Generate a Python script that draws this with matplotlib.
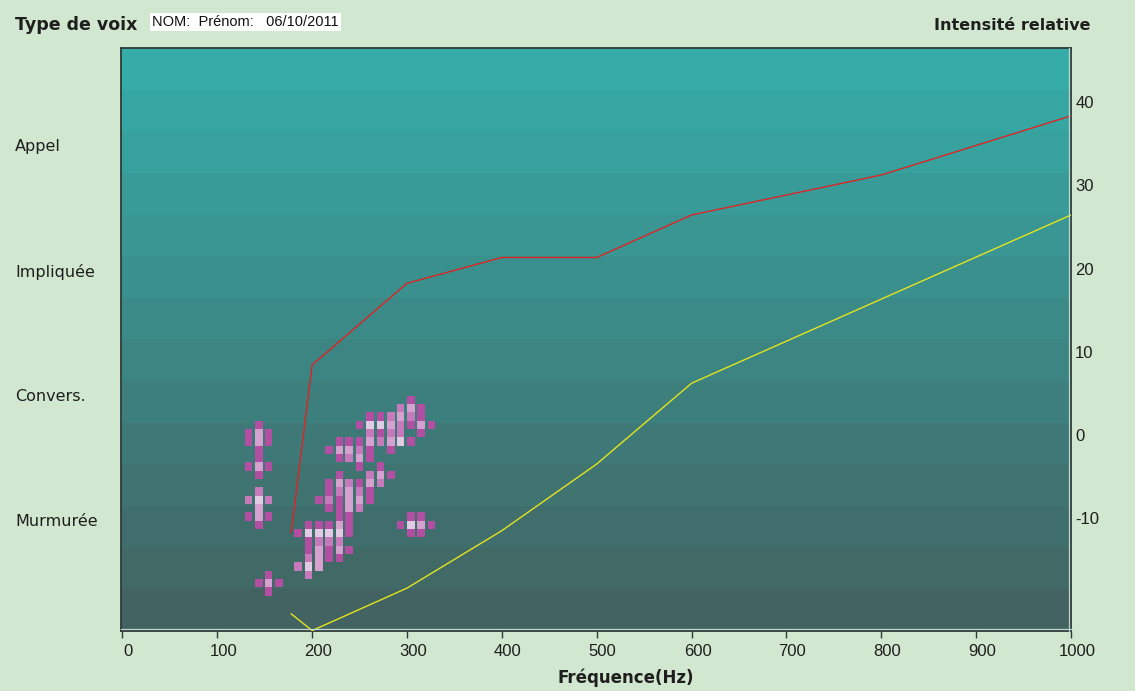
import matplotlib
matplotlib.use("Agg")
import matplotlib.pyplot as plt
import matplotlib.transforms as mtransforms
from matplotlib import font_manager
import numpy as np

# ---- data -------------------------------------------------------------
freq_ticks = [0, 100, 200, 300, 400, 500, 600, 700, 800, 900, 1000]
level_ticks = [40, 30, 20, 10, 0, -10]

voice_types = ["Appel", "Impliquée", "Convers.", "Murmurée"]
voice_type_db = [35, 20, 5, -10]

# upper and lower limit curves (Hz, relative dB)
upper_hz = [178, 200, 300, 400, 500, 600, 800, 1000]
upper_db = [-11.9, 8.2, 18.0, 21.1, 21.1, 26.2, 31.0, 38.1]
lower_hz = [178, 200, 300, 400, 500, 600, 800, 1000]
lower_db = [-21.7, -23.7, -18.6, -11.7, -3.7, 6.0, 16.1, 26.2]

# measured voice cells: frequency bin (Hz), level (dB), occurrence tone (1 rare .. 4 frequent)
cell_hz = [
    133, 133, 133, 133, 133,
    144, 144, 144, 144, 144, 144, 144, 144, 144, 144, 144, 144, 144,
    154, 154, 154, 154, 154, 154, 154, 154,
    165,
    185, 185,
    196, 196, 196, 196, 196, 196, 196,
    207, 207, 207, 207, 207, 207, 207,
    218, 218, 218, 218, 218, 218, 218, 218, 218, 218,
    229, 229, 229, 229, 229, 229, 229, 229, 229, 229, 229, 229, 229, 229,
    239, 239, 239, 239, 239, 239, 239, 239, 239, 239, 239,
    250, 250, 250, 250, 250, 250, 250, 250, 250,
    261, 261, 261, 261, 261, 261, 261, 261, 261, 261,
    272, 272, 272, 272, 272, 272, 272,
    283, 283, 283, 283, 283, 283,
    293, 293, 293, 293, 293, 293,
    304, 304, 304, 304, 304, 304, 304, 304,
    315, 315, 315, 315, 315, 315, 315,
    326, 326,
]
cell_db = [
    0, -1, -4, -8, -10,
    1, 0, -1, -2, -3, -4, -5, -7, -8, -9, -10, -11, -18,
    0, -1, -4, -8, -10, -17, -18, -19,
    -18,
    -12, -16,
    -11, -12, -13, -14, -15, -16, -17,
    -8, -11, -12, -13, -14, -15, -16,
    -2, -6, -7, -8, -9, -11, -12, -13, -14, -15,
    -1, -2, -3, -5, -6, -7, -8, -9, -10, -11, -12, -13, -14, -15,
    -1, -2, -3, -6, -7, -8, -9, -10, -11, -12, -14,
    1, -1, -2, -3, -4, -6, -7, -8, -9,
    2, 1, 0, -1, -2, -3, -5, -6, -7, -8,
    2, 1, 0, -1, -4, -5, -6,
    2, 1, 0, -1, -2, -5,
    3, 2, 1, 0, -1, -11,
    4, 3, 2, 1, -1, -10, -11, -12,
    3, 2, 1, 0, -10, -11, -12,
    1, -11,
]
cell_tone = [
    1, 1, 1, 2, 1,
    1, 3, 3, 1, 1, 3, 1, 2, 4, 3, 3, 1, 1,
    1, 1, 1, 2, 1, 1, 3, 1,
    1,
    1, 2,
    1, 4, 1, 1, 2, 4, 2,
    1, 1, 4, 2, 3, 3, 3,
    1, 1, 1, 2, 1, 1, 4, 2, 1, 1,
    1, 3, 1, 1, 3, 2, 1, 1, 1, 3, 4, 2, 3, 1,
    1, 3, 2, 2, 3, 3, 3, 1, 1, 1, 1,
    1, 1, 2, 3, 1, 1, 2, 3, 2,
    1, 4, 2, 3, 1, 1, 2, 3, 1, 1,
    1, 4, 1, 2, 1, 3, 2,
    2, 3, 2, 3, 1, 1,
    2, 3, 2, 2, 4, 1,
    1, 3, 2, 1, 1, 1, 4, 1,
    1, 1, 3, 1, 1, 3, 1,
    1, 1,
]

# ---- style --------------------------------------------------------------
available = {f.name for f in font_manager.fontManager.ttflist}
base_font = "Liberation Sans" if "Liberation Sans" in available else "DejaVu Sans"
tick_font = "Liberation Sans Narrow" if "Liberation Sans Narrow" in available else base_font
plt.rcParams["font.family"] = [base_font, "DejaVu Sans"]
wide_font = ["DejaVu Sans"]

page_bg = "#d2e7cf"
text_col = "#1e1e1e"
tone_colors = {1: "#b24fa2", 2: "#c67abb", 3: "#d6a0cf", 4: "#e2c9e4"}
band_top = np.array([53, 172, 168]) / 255
band_bottom = np.array([66, 99, 97]) / 255

W, H, DPI = 1135, 691, 100
fig = plt.figure(figsize=(W / DPI, H / DPI), dpi=DPI, facecolor=page_bg)

left_px, right_px, top_px, bottom_px = 121, 1071, 48, 631
ax = fig.add_axes([left_px / W, 1 - bottom_px / H,
                   (right_px - left_px) / W, (bottom_px - top_px) / H])

y_lo, y_hi = -23.75, 46.25
ax.set_xlim(-1.5, 1000)
ax.set_ylim(y_lo, y_hi)

# banded background
n_bands = 14
edges = np.linspace(y_hi, y_lo, n_bands + 1)
for i in range(n_bands):
    t = i / (n_bands - 1)
    c = band_top * (1 - t) + band_bottom * t
    ax.axhspan(edges[i + 1], edges[i], color=c, lw=0, zorder=0)

# voice cells
ax.bar(cell_hz, 1.0, width=8.0, bottom=np.array(cell_db) - 0.5,
       color=[tone_colors[t] for t in cell_tone], linewidth=0, zorder=2)

# limit curves
ax.plot(upper_hz, upper_db, color="#dc2424", lw=1.0, zorder=3, clip_on=True)
ax.plot(lower_hz, lower_db, color="#e4e41e", lw=1.0, zorder=3, clip_on=True)

# frame
for side in ["left", "top", "right", "bottom"]:
    ax.spines[side].set_color("#2f3a38")
    ax.spines[side].set_linewidth(1.3)
light = "#bcd8d0"
off_b = mtransforms.ScaledTranslation(0, 1.6 / DPI, fig.dpi_scale_trans)
off_r = mtransforms.ScaledTranslation(-1.6 / DPI, 0, fig.dpi_scale_trans)
ax.plot([0, 1], [0, 0], transform=ax.transAxes + off_b, color=light, lw=0.9,
        zorder=4, clip_on=False)
ax.plot([1, 1], [0, 1], transform=ax.transAxes + off_r, color=light, lw=0.9,
        zorder=4, clip_on=False)

# x axis
ax.set_xticks(freq_ticks)
ax.set_xticklabels([str(v) for v in freq_ticks], fontsize=12, color=text_col,
                   family=[tick_font, "DejaVu Sans"])
ax.tick_params(axis="x", direction="out", length=5, width=1, color="#2f3a38", pad=4)
shift = mtransforms.ScaledTranslation(6 / DPI, 0, fig.dpi_scale_trans)
for lab in ax.get_xticklabels():
    lab.set_transform(lab.get_transform() + shift)
fig.text(626 / W, 1 - 678 / H, "Fréquence(Hz)", fontsize=12, fontweight="bold",
         color=text_col, ha="center", va="center", family=wide_font)

# relative level axis on the right
ax.yaxis.tick_right()
ax.set_yticks(level_ticks)
ax.set_yticklabels([str(v) for v in level_ticks],
                   fontsize=12, color=text_col, family=[tick_font, "DejaVu Sans"])
ax.tick_params(axis="y", length=0, pad=3)
down = mtransforms.ScaledTranslation(0, -2 / DPI, fig.dpi_scale_trans)
for lab in ax.get_yticklabels():
    lab.set_transform(lab.get_transform() + down)

# voice type labels on the left
lab_tr = mtransforms.blended_transform_factory(fig.transFigure, ax.transData)
lab_tr = lab_tr + mtransforms.ScaledTranslation(0, -5 / DPI, fig.dpi_scale_trans)
for name, db in zip(voice_types, voice_type_db):
    fig.text(15 / W, db, name, transform=lab_tr, fontsize=11.5, color=text_col,
             ha="left", va="center", family=wide_font)

# header
fig.text(15 / W, 1 - 25 / H, "Type de voix", fontsize=12.5, fontweight="bold",
         color=text_col, ha="left", va="center", family=wide_font)
fig.text(152 / W, 1 - 22 / H, "NOM:  Prénom:   06/10/2011", fontsize=10.5,
         color="#111111", ha="left", va="center", family=[tick_font, "DejaVu Sans"],
         bbox=dict(facecolor="white", edgecolor="none", pad=1.5))
fig.text(1090 / W, 1 - 25 / H, "Intensité relative", fontsize=11.5, fontweight="bold",
         color=text_col, ha="right", va="center", family=wide_font)

fig.savefig("out.png", dpi=DPI, facecolor=page_bg)
